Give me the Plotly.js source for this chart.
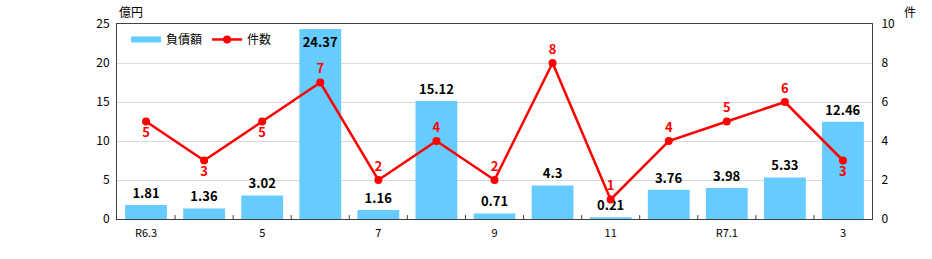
<!DOCTYPE html>
<html><head><meta charset="utf-8">
<script src="https://cdn.plot.ly/plotly-3.0.1.min.js"></script>
<style>html,body{margin:0;padding:0;background:#fff}#c{width:932px;height:259px}</style>
</head><body><div id="c"></div>
<script>
const categories = ['R6.3','4','5','6','7','8','9','10','11','12','R7.1','2','3'];
const tickLabels = ['R6.3','','5','','7','','9','','11','','R7.1','','3'];
const debt = [1.81, 1.36, 3.02, 24.37, 1.16, 15.12, 0.71, 4.3, 0.21, 3.76, 3.98, 5.33, 12.46];
const counts = [5, 3, 5, 7, 2, 4, 2, 8, 1, 4, 5, 6, 3];
const countLabelPos = ['bottom center','bottom center','bottom center','top center','top center','top center','top center','top center','top center','top center','top center','top center','bottom center'];
const debtLabelPos = debt.map(v => v > 23 ? 'inside' : 'outside');

const F = '"Noto Sans CJK JP", "DejaVu Sans", sans-serif';
const xs = categories.map((c,i)=>i);

const traces = [
  {type:'bar', x: xs, y: debt, name:'負債額', showlegend:false,
   marker:{color:'#66CCFF'}, width:0.72,
   text: debt.map(String), textposition: debtLabelPos, insidetextanchor:'end',
   textfont:{family:F, size:13, color:'#000', weight:'bold'},
   outsidetextfont:{family:F, size:13, color:'#000', weight:'bold'},
   insidetextfont:{family:F, size:13, color:'#000', weight:'bold'},
   constraintext:'none', cliponaxis:false, hoverinfo:'skip'},
  {type:'scatter', x:[null], y:[null], name:'負債額', mode:'lines',
   line:{color:'#66CCFF', width:6}, hoverinfo:'skip'},
  {type:'scatter', x: xs, y: counts, name:'件数', yaxis:'y2',
   mode:'lines+markers+text', line:{color:'#FF0000', width:2.5},
   marker:{color:'#FF0000', size:8},
   text: counts.map(String), textposition: countLabelPos,
   textfont:{family:F, size:13, color:'#FF0000', weight:'bold'},
   cliponaxis:false, hoverinfo:'skip'}
];

const layout = {
  width:932, height:259,
  margin:{l:117, r:60, t:24, b:40},
  paper_bgcolor:'#fff', plot_bgcolor:'#fff',
  font:{family:F, size:12, color:'#000'},
  showlegend:true,
  legend:{orientation:'h', x:0.012, y:0.995, xanchor:'left', yanchor:'top',
          bgcolor:'rgba(0,0,0,0)', font:{family:F, size:12}, itemwidth:30, traceorder:'normal'},
  xaxis:{type:'linear', range:[-0.5, categories.length-0.5],
         tickmode:'array', tickvals: xs, ticktext: tickLabels,
         ticks:'', showgrid:false, zeroline:false, ticklabelstandoff:4,
         showline:true, linecolor:'#404040', linewidth:1, mirror:true,
         tickfont:{family:F, size:11}},
  yaxis:{range:[0,25], dtick:5, showgrid:true, gridcolor:'#d9d9d9',
         zeroline:false, showline:true, linecolor:'#404040', linewidth:1,
         ticks:'', ticklabelstandoff:4, tickfont:{family:F, size:12}},
  yaxis2:{range:[0,10], dtick:2, overlaying:'y', side:'right', showgrid:false,
          zeroline:false, showline:true, linecolor:'#404040', linewidth:1,
          ticks:'', ticklabelstandoff:6, tickfont:{family:F, size:12}},
  shapes: xs.slice(0,-1).map(i => ({type:'line', xref:'x', yref:'paper',
          x0:i+0.5, x1:i+0.5, y0:0, y1:0.02, line:{color:'#404040', width:1}})),
  annotations:[
    {text:'億円', xref:'paper', yref:'paper', x:0.0, y:1.0, xanchor:'left', yanchor:'bottom',
     showarrow:false, font:{family:F, size:12}, yshift:2},
    {text:'件', xref:'paper', yref:'paper', x:1.0, y:1.0, xanchor:'left', yanchor:'bottom',
     showarrow:false, font:{family:F, size:12}, xshift:30, yshift:2}
  ]
};

Plotly.newPlot('c', traces, layout, {displayModeBar:false, staticPlot:true});
</script>
</body></html>
